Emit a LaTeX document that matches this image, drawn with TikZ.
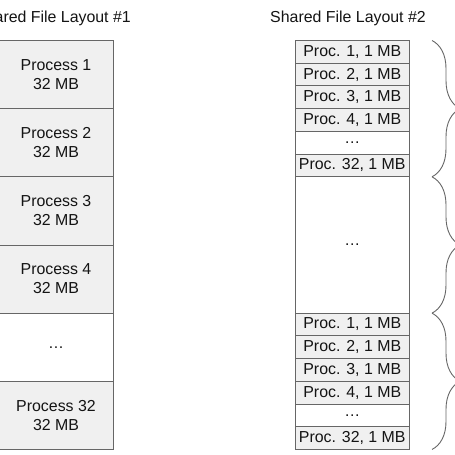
\documentclass[tikz,border=0pt]{standalone}
\usepackage{fontspec}
\setmainfont{Liberation Sans}
\usepackage{tikz}
\usetikzlibrary{positioning,decorations.pathreplacing}
\definecolor{boxline}{RGB}{102,102,102}
\definecolor{boxfill}{RGB}{240,240,240}
\definecolor{textcol}{RGB}{20,20,20}

\begin{document}
\begin{tikzpicture}[x=1pt,y=-1pt]
    % Setup the styles for the blocks
        \tikzset{big block/.style={draw=boxline,
                                   line width=0.9pt,
                                   fill=boxfill,
                                   outer sep=0pt,
                                   inner sep=0pt,
                                   minimum width=114pt,
                                   minimum height=68.17pt,
                                   align=center,
                                   text=textcol,
                                   font=\fontsize{15.9}{19}\selectfont},
                 small block/.style={big block,
                                     minimum width=113.5pt,
                                     minimum height=22.72pt},
                 gap block/.style={fill=white},
                 title/.style={text=textcol,
                               font=\fontsize{15.9}{19}\selectfont},
                 curly/.style={draw=boxline,
                               line width=0.9pt,
                               decorate,
                               decoration={brace,amplitude=28pt,aspect=0.5}}}
        \useasboundingbox (0,0) rectangle (455,455);
        % Titles
        \node[title,anchor=base] at (53,22.5)  (title_1) {Shared File Layout \#1};
        \node[title,anchor=base] at (348,22.5) (title_2) {Shared File Layout \#2};
        % Layout #1: one block per process
        \node[big block] at (56,74.58)         (block_1)  {Process 1\\32 MB};
        \node[big block,below=0pt of block_1]  (block_2)  {Process 2\\32 MB};
        \node[big block,below=0pt of block_2]  (block_3)  {Process 3\\32 MB};
        \node[big block,below=0pt of block_3]  (block_4)  {Process 4\\32 MB};
        \node[big block,gap block,below=0pt of block_4] (block_dots) {…};
        \node[big block,below=0pt of block_dots] (block_32) {Process 32\\32 MB};
        % Layout #2: strided 1 MB pieces
        \node[small block] at (352.25,51.86)      (proc_a1)  {Proc. 1, 1 MB};
        \node[small block,below=0pt of proc_a1]   (proc_a2)  {Proc. 2, 1 MB};
        \node[small block,below=0pt of proc_a2]   (proc_a3)  {Proc. 3, 1 MB};
        \node[small block,below=0pt of proc_a3]   (proc_a4)  {Proc. 4, 1 MB};
        \node[small block,gap block,below=0pt of proc_a4] (proc_adots) {…};
        \node[small block,below=0pt of proc_adots] (proc_a32) {Proc. 32, 1 MB};
        \node[small block,gap block,minimum height=136.33pt,below=0pt of proc_a32] (proc_mid) {…};
        \node[small block,below=0pt of proc_mid]  (proc_b1)  {Proc. 1, 1 MB};
        \node[small block,below=0pt of proc_b1]   (proc_b2)  {Proc. 2, 1 MB};
        \node[small block,below=0pt of proc_b2]   (proc_b3)  {Proc. 3, 1 MB};
        \node[small block,below=0pt of proc_b3]   (proc_b4)  {Proc. 4, 1 MB};
        \node[small block,gap block,below=0pt of proc_b4] (proc_bdots) {…};
        \node[small block,below=0pt of proc_bdots] (proc_b32) {Proc. 32, 1 MB};
        % Braces
        \coordinate (brace_0) at ([xshift=23pt]proc_a1.north east);
        \coordinate (brace_1) at ([xshift=23pt]proc_a32.south east);
        \coordinate (brace_2) at ([xshift=23pt]proc_mid.south east);
        \coordinate (brace_3) at ([xshift=23pt]proc_b32.south east);
        \draw[curly] (brace_0) -- (brace_1);
        \draw[curly] (brace_1) -- (brace_2);
        \draw[curly] (brace_2) -- (brace_3);
\end{tikzpicture}
\end{document}
